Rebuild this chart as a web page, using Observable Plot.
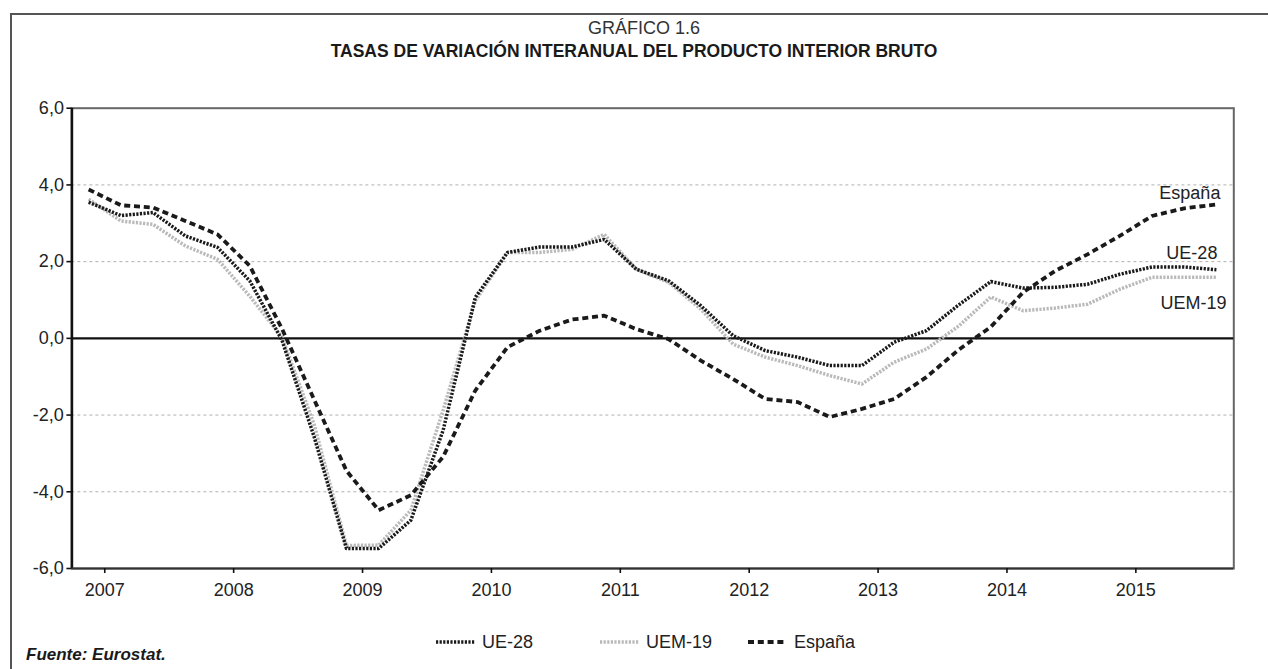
<!DOCTYPE html>
<html>
<head>
<meta charset="utf-8">
<script src="https://cdn.jsdelivr.net/npm/d3@7"></script>
<script src="https://cdn.jsdelivr.net/npm/@observablehq/plot@0.6"></script>
<style>
  html, body { margin: 0; padding: 0; background: #fff; }
  body { width: 1268px; height: 669px; position: relative; overflow: hidden;
         font-family: "Liberation Sans", Arial, Helvetica, sans-serif; color: #222; }
  .abs { position: absolute; white-space: nowrap; line-height: 1; }
  #frameTop { position: absolute; left: 10px; top: 13px; width: 1300px; height: 0; border-top: 2px solid #555; }
  #frameLeft { position: absolute; left: 10px; top: 13px; width: 0; height: 700px; border-left: 2px solid #555; }
  #chart { position: absolute; left: 0; top: 0; }
  .leg { position: absolute; top: 633px; height: 18px; display: flex; align-items: center; font-size: 18px; line-height: 1; }
  .leg svg { margin-right: 7px; }
</style>
</head>
<body>
<div id="frameTop"></div>
<div id="frameLeft"></div>
<div id="chart"></div>
<div class="abs" id="sup" style="left:0; width:1288px; text-align:center; top:18.8px; font-size:18px; color:#333;">GRÁFICO 1.6</div>
<div class="abs" id="title" style="left:0; width:1268px; text-align:center; top:42.5px; font-size:17.5px; font-weight:bold; color:#1a1a1a;">TASAS DE VARIACIÓN INTERANUAL DEL PRODUCTO INTERIOR BRUTO</div>
<div id="legend"></div>
<div class="abs" style="left:26px; top:646.3px; font-size:17px; font-weight:bold; font-style:italic; color:#1a1a1a;">Fuente: Eurostat.</div>
<script>
// ---- Data (tasas de variación interanual, %, trimestral 2007T1–2015T4) ----
const years = [2007, 2008, 2009, 2010, 2011, 2012, 2013, 2014, 2015];
const quarters = ["T1", "T2", "T3", "T4"];
const yTicks = [-6, -4, -2, 0, 2, 4, 6];
const seriesNames = ["UE-28", "UEM-19", "España"];

const ue28 = [3.55, 3.2, 3.28, 2.67, 2.37, 1.5, -0.05, -2.57,
              -5.48, -5.48, -4.74, -2.4, 1.07, 2.24, 2.38, 2.38,
              2.58, 1.8, 1.5, 0.85, 0.07, -0.32, -0.49, -0.71,
              -0.71, -0.1, 0.2, 0.87, 1.48, 1.31, 1.33, 1.41,
              1.67, 1.86, 1.86, 1.79];
const uem19 = [3.63, 3.06, 2.97, 2.41, 2.06, 1.1, 0.03, -2.25,
               -5.4, -5.39, -4.48, -1.88, 0.98, 2.24, 2.24, 2.32,
               2.71, 1.8, 1.46, 0.76, -0.15, -0.49, -0.71, -0.97,
               -1.19, -0.62, -0.28, 0.32, 1.08, 0.72, 0.79, 0.89,
               1.28, 1.59, 1.59, 1.59];
const espana = [3.88, 3.47, 3.41, 3.06, 2.71, 1.89, 0.25, -1.6,
                -3.45, -4.48, -4.09, -3.09, -1.36, -0.23, 0.2, 0.49,
                0.59, 0.24, -0.02, -0.58, -1.06, -1.58, -1.66, -2.05,
                -1.84, -1.58, -1.01, -0.3, 0.3, 1.2, 1.76, 2.19,
                2.67, 3.19, 3.39, 3.49];

// ---- Build table ----
const rows = ue28.map((v, i) => ({
  i,
  periodo: `${years[Math.floor(i / 4)]}-${quarters[i % 4]}`,
  ue28: v,
  uem19: uem19[i],
  espana: espana[i]
}));
const last = [rows[rows.length - 1]];
const xDomain = [-0.52, rows.length - 1 + 0.54];
const yearTicks = years.map((y, k) => 4 * k + 0.5);

const styles = {
  "UE-28": {stroke: "#1a1a1a", strokeWidth: 3.5, strokeDasharray: "2.2,1.4"},
  "UEM-19": {stroke: "#b9b9b9", strokeWidth: 3.5, strokeDasharray: "2.2,1.4"},
  "España": {stroke: "#1a1a1a", strokeWidth: 3.8, strokeDasharray: "6,3.8"}
};

const fmt = d => d.toFixed(1).replace(".", ",");

const chart = Plot.plot({
  width: 1268,
  height: 669,
  marginLeft: 71.4,
  marginRight: 34.7,
  marginTop: 107.7,
  marginBottom: 101,
  x: {domain: xDomain, label: null},
  y: {domain: [yTicks[0], yTicks[yTicks.length - 1]], label: null},
  style: {fontFamily: '"Liberation Sans", Arial, Helvetica, sans-serif', fontSize: "18px", color: "#222", background: "transparent", overflow: "visible"},
  marks: [
    Plot.gridY(yTicks.filter(t => t !== 0 && Math.abs(t) !== 6), {stroke: "#b0b0b0", strokeOpacity: 1, strokeWidth: 1, strokeDasharray: "3,3"}),
    Plot.frame({stroke: "#666", strokeWidth: 2}),
    Plot.ruleY([0], {stroke: "#111", strokeWidth: 2.2}),
    Plot.line(rows, {x: "i", y: "uem19", ...styles["UEM-19"], strokeLinecap: "butt"}),
    Plot.line(rows, {x: "i", y: "ue28", ...styles["UE-28"], strokeLinecap: "butt"}),
    Plot.line(rows, {x: "i", y: "espana", ...styles["España"], strokeLinecap: "butt"}),
    Plot.ruleX([xDomain[0]], {stroke: "#111", strokeWidth: 2.6}),
    Plot.ruleY([yTicks[0]], {stroke: "#333", strokeWidth: 2}),
    Plot.axisY({ticks: yTicks, tickFormat: fmt, tickSize: 5, tickPadding: 3, stroke: "#111", strokeWidth: 1.6, fill: "#222", fontSize: 18, label: null}),
    Plot.axisX({ticks: yearTicks, tickFormat: d => String(years[Math.round((d - 0.5) / 4)]), tickSize: 5, tickPadding: 10, stroke: "#111", strokeWidth: 1.6, fill: "#222", fontSize: 18, label: null}),
    Plot.text(last, {x: "i", y: "espana", text: () => seriesNames[2], textAnchor: "end", dx: 4, dy: -11, fontSize: 18, fill: "#222"}),
    Plot.text(last, {x: "i", y: "ue28", text: () => seriesNames[0], textAnchor: "end", dx: 1, dy: -16, fontSize: 18, fill: "#222"}),
    Plot.text(last, {x: "i", y: "uem19", text: () => seriesNames[1], textAnchor: "end", dx: 10, dy: 26, fontSize: 18, fill: "#222"})
  ]
});
document.getElementById("chart").appendChild(chart);

// ---- Legend ----
const legendLefts = {"UE-28": 436, "UEM-19": 600, "España": 748};
const legend = document.getElementById("legend");
seriesNames.forEach(name => {
  const s = styles[name];
  const item = document.createElement("div");
  item.className = "leg";
  item.style.left = legendLefts[name] + "px";
  const w = 39;
  item.innerHTML = `<svg width="${w}" height="18"><line x1="0" x2="${w}" y1="9" y2="9" stroke="${s.stroke}" stroke-width="${s.strokeWidth}" stroke-dasharray="${s.strokeDasharray}"/></svg><span>${name}</span>`;
  legend.appendChild(item);
});
</script>
</body>
</html>
